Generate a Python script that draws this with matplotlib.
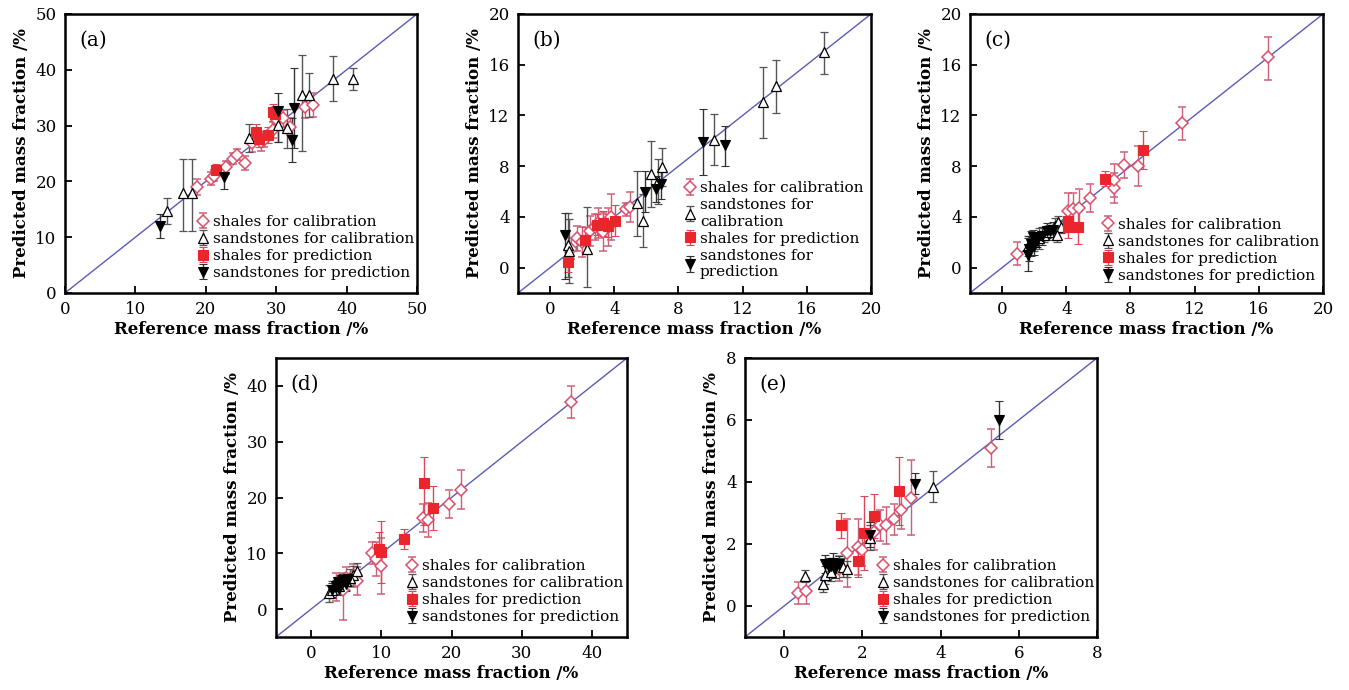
import matplotlib
matplotlib.use('Agg')
import matplotlib.pyplot as plt
import numpy as np

plt.rcParams['font.family'] = ['DejaVu Serif']
plt.rcParams['mathtext.fontset'] = 'dejavuserif'

# each point: (reference, predicted, error below, error above)
a_shale_cal = [(18.8, 19.0, 1.5, 1.5), (20.8, 20.5, 1.2, 1.2), (21.2, 21.0, 1.0, 1.0), (22.9, 22.5, 1.2, 1.2),
               (23.8, 24.1, 1.0, 1.0), (24.5, 24.8, 1.0, 1.0), (25.6, 23.3, 1.2, 1.2), (26.6, 26.8, 1.5, 1.5),
               (27.8, 27.0, 1.5, 1.5), (28.3, 27.4, 1.2, 1.2), (29.6, 29.2, 1.5, 1.5), (30.1, 31.0, 1.5, 1.5),
               (31.0, 31.3, 1.5, 1.5), (32.0, 29.8, 1.5, 1.5), (34.1, 33.3, 2.0, 2.0), (35.2, 33.7, 2.2, 2.2)]
a_sand_cal = [(14.5, 14.7, 2.3, 2.3), (16.8, 18.0, 6.8, 6.0), (18.1, 18.0, 6.8, 6.0), (26.1, 27.7, 2.5, 2.5),
              (30.2, 30.1, 3.0, 3.0), (31.6, 29.5, 3.5, 3.5), (33.7, 35.5, 10.0, 7.2), (34.6, 35.5, 4.0, 4.0),
              (38.1, 38.4, 4.0, 4.0), (40.9, 38.4, 2.0, 2.0)]
a_shale_pred = [(21.4, 22.1, 1.0, 1.0), (27.1, 28.8, 1.5, 1.5), (27.5, 27.6, 1.5, 1.5), (28.9, 28.3, 1.5, 1.5),
                (29.5, 32.4, 1.5, 1.5), (29.9, 32.0, 1.5, 1.5)]
a_sand_pred = [(13.5, 12.0, 2.2, 2.2), (22.6, 20.8, 2.2, 2.2), (30.3, 32.6, 5.6, 3.2), (32.5, 33.1, 7.2, 7.3),
               (32.3, 27.4, 4.0, 4.0)]

b_shale_cal = [(1.3, 1.5, 0.8, 0.8), (1.7, 2.3, 1.0, 1.0), (2.0, 2.0, 1.2, 1.2), (2.5, 2.9, 1.2, 1.2),
               (2.8, 3.2, 1.0, 1.0), (3.0, 3.5, 1.2, 1.2), (3.3, 2.8, 1.5, 1.5), (3.6, 3.2, 1.5, 1.5),
               (3.8, 4.0, 1.8, 1.8), (4.7, 4.6, 0.5, 0.5), (5.0, 4.8, 1.2, 1.2)]
b_sand_cal = [(1.1, 1.8, 2.5, 2.5), (1.15, 1.3, 2.5, 2.5), (2.3, 1.5, 3.0, 3.3), (5.4, 5.1, 2.6, 2.5),
              (5.8, 3.7, 2.1, 2.1), (6.3, 7.4, 2.6, 2.6), (6.7, 6.8, 1.8, 1.8), (7.0, 7.9, 1.5, 1.5),
              (10.2, 10.1, 2.0, 2.0), (13.3, 13.1, 2.9, 2.7), (14.1, 14.3, 2.1, 2.1), (17.1, 17.0, 1.7, 1.6)]
b_shale_pred = [(1.1, 0.45, 0.8, 0.8), (2.2, 2.2, 1.0, 1.0), (2.9, 3.4, 0.8, 0.8), (3.3, 3.5, 1.0, 1.0),
                (3.6, 3.3, 0.9, 0.9), (4.05, 3.7, 1.2, 1.2)]
b_sand_pred = [(0.9, 2.6, 3.5, 1.7), (5.9, 6.0, 1.6, 1.6), (6.6, 6.2, 1.0, 1.0), (6.9, 6.6, 1.2, 1.2),
               (9.5, 9.9, 2.6, 2.6), (10.9, 9.7, 1.7, 1.5)]

c_shale_cal = [(0.9, 1.1, 0.9, 0.9), (4.1, 4.5, 1.4, 1.4), (4.4, 4.6, 1.3, 1.3), (4.8, 4.7, 1.5, 1.5),
               (5.5, 5.5, 1.1, 1.1), (7.0, 6.3, 1.2, 1.2), (7.0, 6.9, 1.3, 1.3), (7.6, 8.1, 1.0, 1.0),
               (8.5, 8.0, 1.6, 1.6), (11.2, 11.4, 1.3, 1.3), (16.6, 16.6, 1.8, 1.6)]
c_sand_cal = [(1.6, 1.7, 0.8, 0.8), (2.0, 2.0, 0.7, 0.7), (2.3, 2.3, 0.8, 0.8), (2.6, 2.6, 0.6, 0.6),
              (2.9, 2.8, 0.6, 0.6), (3.3, 3.3, 0.6, 0.6), (3.5, 3.6, 0.5, 0.5), (3.7, 3.2, 0.5, 0.5),
              (3.4, 2.6, 0.6, 0.6)]
c_shale_pred = [(4.1, 3.2, 0.9, 0.9), (4.1, 3.7, 0.9, 0.9), (4.7, 3.2, 1.3, 1.3), (6.4, 7.0, 0.6, 0.6),
                (8.8, 9.3, 1.5, 1.5)]
c_sand_pred = [(1.6, 1.0, 1.3, 1.3), (1.7, 1.5, 1.0, 1.0), (1.8, 1.9, 1.0, 1.0), (2.0, 1.7, 0.7, 0.7),
               (2.2, 2.2, 0.6, 0.6), (2.5, 2.5, 0.7, 0.7), (2.8, 2.9, 0.6, 0.6), (3.0, 2.9, 0.5, 0.5),
               (3.2, 3.0, 0.6, 0.6), (1.9, 2.4, 0.6, 0.6)]

d_shale_cal = [(3.5, 4.0, 2.5, 2.5), (4.5, 3.5, 5.5, 3.0), (5.0, 5.5, 2.0, 2.0), (6.0, 6.0, 2.0, 2.0),
               (6.5, 5.0, 2.5, 2.5), (8.7, 10.0, 2.0, 2.0), (9.3, 9.0, 3.0, 3.0), (9.9, 7.7, 5.0, 5.0),
               (15.9, 16.3, 2.5, 2.5), (16.7, 16.0, 3.0, 3.0), (19.6, 18.8, 2.5, 2.5), (21.4, 21.4, 3.5, 3.5),
               (37.0, 37.1, 2.8, 2.8)]
d_sand_cal = [(2.6, 2.8, 1.5, 1.5), (3.0, 3.5, 1.5, 1.5), (4.0, 4.2, 1.5, 1.5), (5.0, 5.0, 1.5, 1.5),
              (6.0, 6.2, 1.5, 1.5), (6.6, 6.8, 1.5, 1.5), (5.5, 5.6, 1.5, 1.5)]
d_shale_pred = [(9.7, 10.8, 3.0, 3.0), (9.9, 10.2, 5.5, 5.5), (13.3, 12.6, 1.8, 1.8), (16.1, 22.6, 7.5, 4.7),
                (17.3, 18.1, 4.0, 4.0)]
d_sand_pred = [(3.0, 3.4, 1.2, 1.2), (3.5, 4.2, 1.0, 1.0), (3.9, 4.8, 1.0, 1.0), (4.2, 4.4, 1.0, 1.0),
               (4.6, 5.0, 1.0, 1.0), (5.0, 4.5, 1.2, 1.2), (5.3, 5.4, 1.0, 1.0), (4.0, 3.6, 1.0, 1.0),
               (4.4, 5.3, 1.0, 1.0)]

e_shale_cal = [(0.35, 0.43, 0.35, 0.35), (0.57, 0.48, 0.42, 0.42), (1.4, 1.2, 0.4, 0.4), (1.6, 1.7, 1.1, 1.1),
               (1.9, 1.9, 0.9, 0.9), (2.0, 1.8, 0.5, 0.5), (2.3, 2.4, 0.6, 0.6), (2.45, 2.6, 0.5, 0.5),
               (2.6, 2.6, 0.6, 0.6), (2.8, 2.8, 0.5, 0.5), (3.0, 3.1, 0.6, 0.6), (3.25, 3.5, 1.2, 1.2),
               (5.3, 5.1, 0.6, 0.6)]
e_sand_cal = [(0.53, 0.97, 0.2, 0.2), (1.0, 0.7, 0.25, 0.25), (1.05, 1.0, 0.3, 0.3), (1.2, 1.1, 0.3, 0.3),
              (1.5, 1.25, 0.3, 0.3), (1.6, 1.2, 0.25, 0.25), (2.2, 2.2, 0.4, 0.4), (3.8, 3.85, 0.5, 0.5)]
e_shale_pred = [(1.45, 2.6, 0.4, 0.4), (1.9, 1.45, 0.5, 0.5), (2.05, 2.35, 1.2, 1.2), (2.3, 2.9, 0.7, 0.7),
                (2.95, 3.7, 1.1, 1.1)]
e_sand_pred = [(1.05, 1.35, 0.3, 0.3), (1.15, 1.25, 0.3, 0.3), (1.25, 1.4, 0.3, 0.3), (1.3, 1.2, 0.3, 0.3),
               (1.4, 1.35, 0.25, 0.25), (1.2, 1.3, 0.25, 0.25), (2.2, 2.3, 0.4, 0.4), (3.35, 3.95, 0.35, 0.35),
               (5.5, 6.0, 0.6, 0.6)]

labels = ['shales for calibration', 'sandstones for calibration',
          'shales for prediction', 'sandstones for prediction']
labels_b = ['shales for calibration', 'sandstones for\ncalibration',
            'shales for prediction', 'sandstones for\nprediction']

styles = [dict(fmt='D', mfc='white', mec='#d9506a', ecolor='#cc6078', ms=6, mew=1.1),
          dict(fmt='^', mfc='white', mec='black', ecolor='#555555', ms=7.5, mew=0.9),
          dict(fmt='s', mfc='#e8262b', mec='#e8262b', ecolor='#d84a5a', ms=6.5, mew=0.8),
          dict(fmt='v', mfc='black', mec='black', ecolor='#333333', ms=7.5, mew=0.8)]

W, H = 1349., 690.
panels = [
    # label, box (left, top, right, bottom) in px, limits, ticks, series, legend labels, legend anchor
    ('(a)', (65, 14, 417, 293), (0, 50), [0, 10, 20, 30, 40, 50],
     [a_shale_cal, a_sand_cal, a_shale_pred, a_sand_pred], labels, (0.375, 0.28)),
    ('(b)', (518, 14, 871, 293), (-2, 20), [0, 4, 8, 12, 16, 20],
     [b_shale_cal, b_sand_cal, b_shale_pred, b_sand_pred], labels_b, (0.47, 0.40)),
    ('(c)', (970, 14, 1323, 293), (-2, 20), [0, 4, 8, 12, 16, 20],
     [c_shale_cal, c_sand_cal, c_shale_pred, c_sand_pred], labels, (0.375, 0.27)),
    ('(d)', (276, 358, 627, 637), (-5, 45), [0, 10, 20, 30, 40],
     [d_shale_cal, d_sand_cal, d_shale_pred, d_sand_pred], labels, (0.37, 0.28)),
    ('(e)', (745, 358, 1097, 637), (-1, 8), [0, 2, 4, 6, 8],
     [e_shale_cal, e_sand_cal, e_shale_pred, e_sand_pred], labels, (0.375, 0.28)),
]

fig = plt.figure(figsize=(W / 100, H / 100), dpi=100)

for name, box, lim, ticks, series, labs, anchor in panels:
    l, t, r, b = box
    ax = fig.add_axes([l / W, (H - b) / H, (r - l) / W, (b - t) / H])
    ax.plot(lim, lim, color='#5b5bb8', lw=1.0, zorder=1)
    handles = []
    for data, st, lab in zip(series, styles, labs):
        d = np.array(data)
        h = ax.errorbar(d[:, 0], d[:, 1], yerr=[d[:, 2], d[:, 3]], capsize=3,
                        elinewidth=1.0, capthick=1.0, label=lab, zorder=3, **st)
        handles.append(h)
    ax.set_xlim(lim)
    ax.set_ylim(lim)
    ax.set_xticks(ticks)
    ax.set_yticks(ticks)
    ax.tick_params(direction='in', length=5, width=1.3, labelsize=12, pad=6)
    for s in ax.spines.values():
        s.set_linewidth(1.8)
    ax.set_xlabel('Reference mass fraction /%', fontsize=12, fontweight='bold', labelpad=2)
    ax.set_ylabel('Predicted mass fraction /%', fontsize=12, fontweight='bold', labelpad=4)
    ax.text(0.04, 0.905, name, transform=ax.transAxes, fontsize=14.5, va='center', ha='left')
    ax.legend(handles=handles, loc='upper left', bbox_to_anchor=anchor, frameon=False,
              fontsize=11, handlelength=0.8, handletextpad=0.25, labelspacing=0.2,
              borderpad=0, borderaxespad=0)

fig.savefig('out.png', dpi=100)
